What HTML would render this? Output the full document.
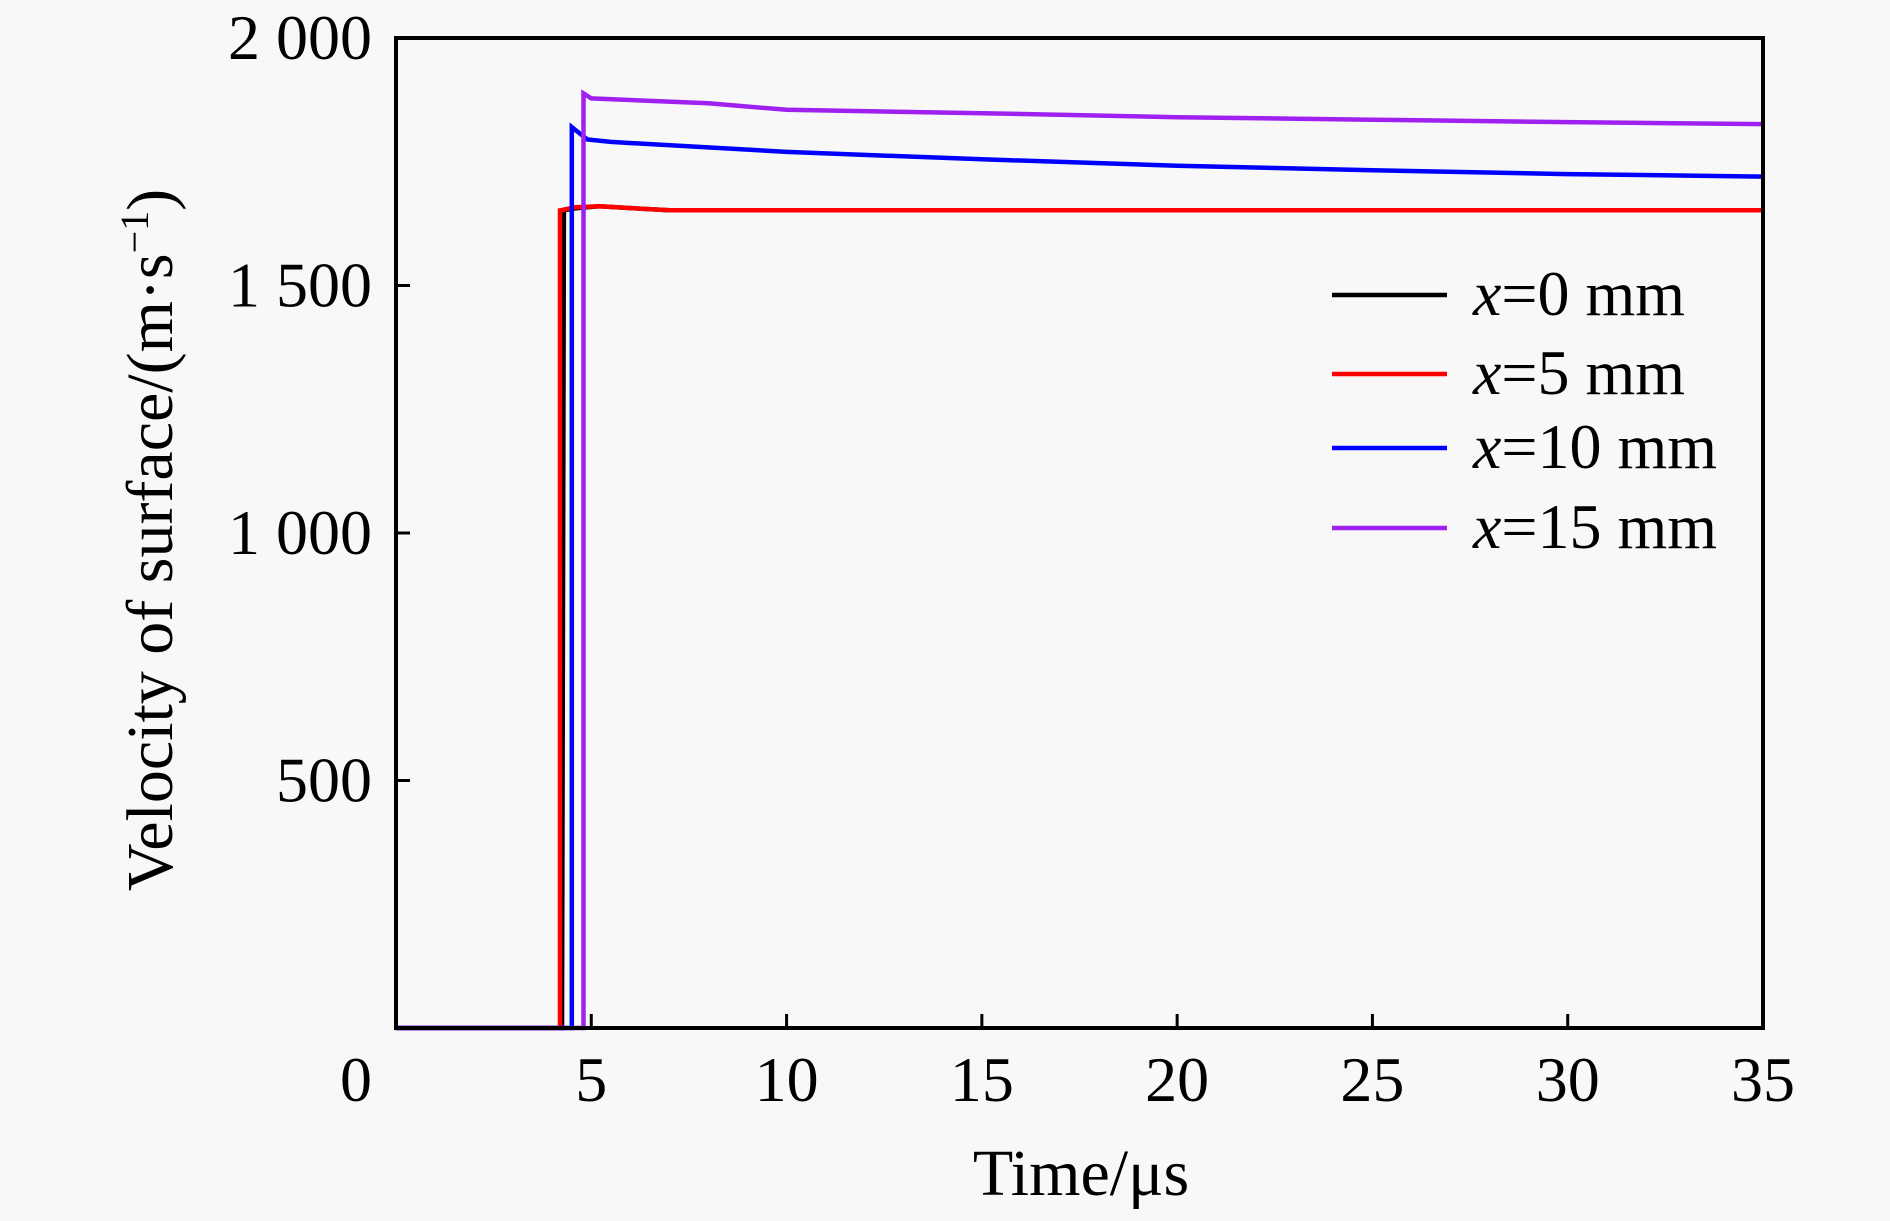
<!DOCTYPE html>
<html><head><meta charset="utf-8"><style>
body{margin:0;background:#f8f8f8;}
svg{display:block;font-family:"Liberation Serif",serif;}
</style></head><body>
<svg width="1890" height="1221">
<rect width="1890" height="1221" fill="#f8f8f8"/>
<g id="plot"></g>
</svg>
<script>
const xTicks=[0,5,10,15,20,25,30,35];
const yTicks=[500,1000,1500,2000];
const yTickLabels=["500","1 000","1 500","2 000"];
const seriesNames=["x=0 mm","x=5 mm","x=10 mm","x=15 mm"];
const seriesColors=["#000","#ff0000","#0000ff","#a020f0"];
const t0=[0,4.25,4.3,4.6,5.2,7,35];
const v0=[0,0,1652,1656,1660,1652,1652];
const t5=[0,4.2,4.2,4.6,5.2,7,35];
const v5=[0,0,1652,1658,1660,1652,1652];
const t10=[0,4.5,4.5,4.9,5.5,10,15,20,25,30,35];
const v10=[0,0,1820,1795,1790,1770,1755,1742,1733,1725,1720];
const t15=[0,4.8,4.8,5.0,8,10,15,20,25,30,35];
const v15=[0,0,1888,1878,1868,1855,1848,1840,1835,1830,1826];
const seriesT=[t0,t5,t10,t15], seriesV=[v0,v5,v10,v15];
const L=396,R=1763,T=38,B=1028;
const X=t=>L+(t/35)*(R-L), Y=v=>B-(v/2000)*(B-T);
const g=document.getElementById('plot'),NS="http://www.w3.org/2000/svg";
function mk(tag,at,txt){const e=document.createElementNS(NS,tag);for(const k in at)e.setAttribute(k,at[k]);if(txt!==undefined)e.textContent=txt;g.appendChild(e);return e;}
[0,1,2,3].forEach(i=>{
 const pts=seriesT[i].map((t,j)=>X(t).toFixed(1)+","+Y(seriesV[i][j]).toFixed(1)).join(" ");
 const p=mk('polyline',{points:pts,fill:"none",stroke:seriesColors[i],"stroke-width":4.5});
 
 
});
const frame=mk('rect',{x:L,y:T,width:R-L,height:B-T,fill:"none",stroke:"#000","stroke-width":4});


xTicks.forEach(t=>{
 if(t>0&&t<35){const k=mk('line',{x1:X(t),x2:X(t),y1:B,y2:B-14,stroke:"#000","stroke-width":3});
 }
 const lx=t===0?356:X(t);
 const lb=mk('text',{x:lx,y:1101,"font-size":64,"text-anchor":"middle"},String(t));
 
 
});
yTicks.forEach((v,i)=>{
 if(v<2000){const k=mk('line',{x1:L,x2:L+14,y1:Y(v),y2:Y(v),stroke:"#000","stroke-width":3});
 }
 const lb=mk('text',{x:372,y:Y(v)+21,"font-size":64,"text-anchor":"end"},yTickLabels[i]);
 
 
});
const xt=mk('text',{x:1081,y:1195,"font-size":66,"text-anchor":"middle"},"Time/μs");


const yt=mk('text',{x:0,y:0,"font-size":66,"text-anchor":"middle",transform:"translate(172,540) rotate(-90)"});
yt.innerHTML='Velocity of surface/(m·s<tspan dy="-24" font-size="40">−1</tspan><tspan dy="24">)</tspan>';


const ly=[295,374,448,528];
seriesNames.forEach((n,i)=>{
 const ln=mk('line',{x1:1332,x2:1447,y1:ly[i],y2:ly[i],stroke:seriesColors[i],"stroke-width":4.5});
 
 
 const tx=mk('text',{x:1473,y:ly[i]+20,"font-size":64});
 tx.innerHTML='<tspan font-style="italic">x</tspan>'+n.slice(1);
 
 
});
</script>
</body></html>
